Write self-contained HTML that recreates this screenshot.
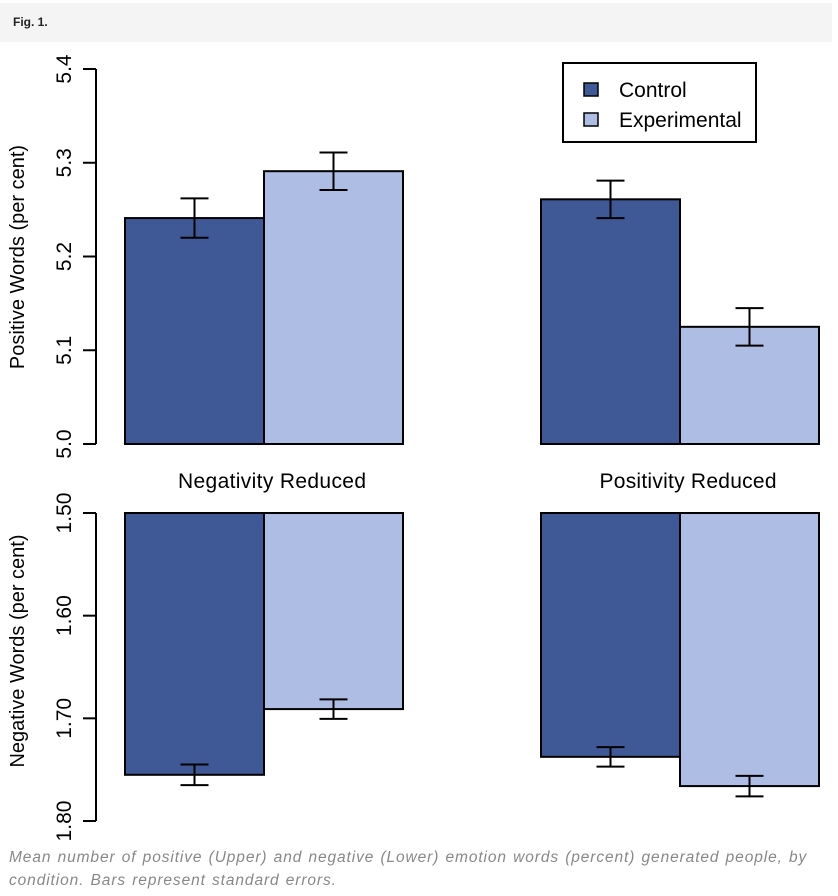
<!DOCTYPE html>
<html><head><meta charset="utf-8"><style>
body{margin:0;background:#fff;width:838px;height:896px;overflow:hidden;font-family:"Liberation Sans",sans-serif}
#hdr{position:absolute;left:0;top:3px;width:832px;height:39px;background:#f4f4f4}
#hdr span{position:absolute;left:13px;top:12px;font-size:12px;font-weight:bold;color:#222}
#cap{position:absolute;left:9px;top:846px;font-size:15.5px;font-style:italic;color:#888;line-height:23px;width:830px;letter-spacing:0.9px;word-spacing:1px;white-space:nowrap}
svg{position:absolute;left:0;top:0}
</style></head><body>
<div id="hdr"><span>Fig. 1.</span></div>
<svg id="chart" width="838" height="896" font-family="Liberation Sans, sans-serif"></svg>
<div id="cap">Mean number of positive (Upper) and negative (Lower) emotion words (percent) generated people, by<br>condition. Bars represent standard errors.</div>
<script>
const groups=["Negativity Reduced","Positivity Reduced"];
const series=["Control","Experimental"];
const posVals=[[5.241,5.291],[5.261,5.125]];
const posErr=[[0.021,0.02],[0.02,0.02]];
const negVals=[[1.755,1.691],[1.7375,1.766]];
const negErr=[[0.01,0.0095],[0.0095,0.01]];
const posTicks=["5.0","5.1","5.2","5.3","5.4"];
const negTicks=["1.50","1.60","1.70","1.80"];
const colors=["#3f5896","#aebde3"];
const svg=document.getElementById('chart');
const NS="http://www.w3.org/2000/svg";
function mk(tag,attrs,parent){const e=document.createElementNS(NS,tag);for(const k in attrs)e.setAttribute(k,attrs[k]);(parent||svg).appendChild(e);return e;}
const yPos=v=>444-(v-5.0)/0.4*375;
const yNeg=v=>513+(v-1.5)/0.3*308;
const xBar=(g,s)=>125+g*416+s*139;
const bw=139;
function axis(ticks,scale,y0,y1,name){
  const g=mk('g',{});
  
  
  mk('line',{x1:96,x2:96,y1:y0,y2:y1,stroke:'#000','stroke-width':2},g);
  ticks.forEach(t=>{const y=scale(parseFloat(t));
    mk('line',{x1:83,x2:96,y1:y,y2:y,stroke:'#000','stroke-width':2},g);
    const tx=mk('text',{x:0,y:0,'font-size':21,'text-anchor':'middle',transform:`translate(71,${y}) rotate(-90)`},g);
    tx.textContent=t;
    
    
  });
}
axis(posTicks,yPos,yPos(5.0),yPos(5.4),'y-axis-upper');
axis(negTicks,yNeg,yNeg(1.5),yNeg(1.8),'y-axis-lower');
function bars(vals,errs,scale,base,pre){
  vals.forEach((gv,g)=>gv.forEach((v,s)=>{
    const x=xBar(g,s),yv=scale(v),yb=scale(base);
    const r=mk('rect',{x:x,y:Math.min(yv,yb),width:bw,height:Math.abs(yv-yb),fill:colors[s],stroke:'#000','stroke-width':2});
    
    
    const cx=x+bw/2,e1=scale(v-errs[g][s]),e2=scale(v+errs[g][s]);
    const eg=mk('g',{stroke:'#000','stroke-width':2});
    
    
    mk('line',{x1:cx,x2:cx,y1:e1,y2:e2},eg);
    mk('line',{x1:cx-14,x2:cx+14,y1:e1,y2:e1},eg);
    mk('line',{x1:cx-14,x2:cx+14,y1:e2,y2:e2},eg);
  }));
}
bars(posVals,posErr,yPos,5.0,'upper');
bars(negVals,negErr,yNeg,1.5,'lower');
groups.forEach((gn,g)=>{const t=mk('text',{x:xBar(g,0)+bw+8,y:488,'font-size':21,'text-anchor':'middle',textLength:g?177:188});t.textContent=gn;
  
  });
[["Positive Words (per cent)",257],["Negative Words (per cent)",651]].forEach(([s,y])=>{
  const t=mk('text',{x:0,y:0,'font-size':20,'text-anchor':'middle',transform:`translate(24,${y}) rotate(-90)`});t.textContent=s;
  
  });
const lg=mk('g',{});


mk('rect',{x:563,y:63,width:193,height:79,fill:'#fff',stroke:'#000','stroke-width':2},lg);
series.forEach((s,i)=>{
  mk('rect',{x:584,y:83+i*30,width:14,height:13,fill:colors[i],stroke:'#000','stroke-width':1.5},lg);
  const t=mk('text',{x:619,y:97+i*30,'font-size':21},lg);t.textContent=s;
  
  
});
</script>
</body></html>
